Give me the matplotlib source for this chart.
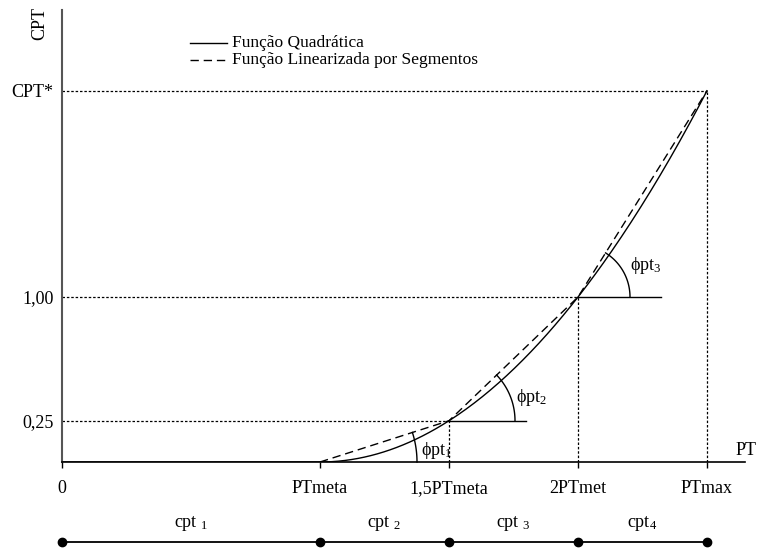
import numpy as np
import matplotlib
matplotlib.use("Agg")
import matplotlib.pyplot as plt

plt.rcParams['font.family'] = ['Liberation Serif', 'DejaVu Serif']
plt.rcParams['mathtext.fontset'] = 'custom'
plt.rcParams['mathtext.rm'] = 'Liberation Serif'
plt.rcParams['mathtext.it'] = 'Liberation Serif:italic'

# ---- data ----
x_ticks = [0, 1.0, 1.5, 2.0, 2.5]
x_labels = ['0', 'PTmeta', '1,5PTmeta', '2PTmet', 'PTmax']
y_ticks = [0.25, 1.00, 2.25]
y_labels = ['0,25', '1,00', 'CPT*']
seg_x = [1.0, 1.5, 2.0, 2.5]          # linearization breakpoints
seg_y = [0.0, 0.25, 1.00, 2.25]
seg_labels = ['cpt $_1$', 'cpt $_2$', 'cpt $_3$', 'cpt$_4$']
angle_labels = ['ϕpt$_1$', 'ϕpt$_2$', 'ϕpt$_3$']
pt_meta = 1.0
pt_max = 2.5

W, H = 760, 551
fig = plt.figure(figsize=(W / 100, H / 100), dpi=100)
ax = fig.add_axes([62 / W, 89 / H, 683 / W, 452 / H])
ax.set_xlim(0, 683 / 258)
ax.set_ylim(0, 452 / 165)

for s in ['top', 'right']:
    ax.spines[s].set_visible(False)
ax.spines['left'].set_color('#555555')
ax.spines['left'].set_linewidth(1.5)
ax.spines['bottom'].set_color('black')
ax.spines['bottom'].set_linewidth(1.2)

ax.set_xticks(x_ticks)
ax.set_xticklabels(x_labels, fontsize=13)
ax.tick_params(axis='x', direction='out', length=4, width=1, pad=9)
ax.set_yticks(y_ticks)
ax.set_yticklabels(y_labels, fontsize=13)
ax.tick_params(axis='y', length=0, pad=6)

# quadratic function
xq = np.linspace(0, pt_max, 400)
yq = np.where(xq < pt_meta, 0.0, ((xq - pt_meta) / pt_meta) ** 2)
ax.plot(xq, yq, color='black', lw=1.0)
# piecewise linear
ax.plot(seg_x, seg_y, color='black', lw=1.0, ls=(0, (6, 3.5)))

# dotted guide lines
for xv, yv in zip(seg_x[1:], seg_y[1:]):
    ax.plot([0, xv], [yv, yv], color='black', lw=0.9, ls=(0, (2, 1.5)))
    ax.plot([xv, xv], [0, yv], color='black', lw=0.9, ls=(0, (2, 1.5)))

# horizontal reference lines at breakpoints 2 and 3
h_ends = [1.80, 2.32]
for (xv, yv), xe in zip(zip(seg_x[1:3], seg_y[1:3]), h_ends):
    ax.plot([xv, xe], [yv, yv], color='black', lw=1.0)

# angle arcs (drawn as circles in display space)
radii = [97, 66, 52]
fig.canvas.draw()
tr = ax.transData
inv = tr.inverted()
for i, r in enumerate(radii):
    p0 = tr.transform((seg_x[i], seg_y[i]))
    p1 = tr.transform((seg_x[i + 1], seg_y[i + 1]))
    ang = np.arctan2(p1[1] - p0[1], p1[0] - p0[0])
    t = np.linspace(0, ang, 60)
    pts = np.column_stack([p0[0] + r * np.cos(t), p0[1] + r * np.sin(t)])
    d = inv.transform(pts)
    ax.plot(d[:, 0], d[:, 1], color='black', lw=1.0, clip_on=False)

lab_pos = [(1.39, 0.07), (1.76, 0.39), (2.20, 1.19)]
for (lx, ly), txt in zip(lab_pos, angle_labels):
    ax.text(lx, ly, txt, fontsize=13, ha='left', va='center')

# axis labels
ax.text(2.69, 0.07, 'PT', fontsize=13, ha='right', va='center', clip_on=False)
fig.text(40 / W, 1 - 24 / H, 'CPT', fontsize=13, rotation=90, ha='center', va='center')

# legend drawn manually
ax.plot([0.496, 0.639], [2.539, 2.539], color='black', lw=1.0)
ax.plot([0.496, 0.639], [2.436, 2.436], color='black', lw=1.0, ls=(0, (6, 3.5)))
ax.text(0.66, 2.539, 'Função Quadrática', fontsize=12.5, ha='left', va='center')
ax.text(0.66, 2.436, 'Função Linearizada por Segmentos', fontsize=12.5, ha='left', va='center')

# segment bar below the axis
bar_x = [0.0] + seg_x
bar_y = -0.485
ax.plot(bar_x, [bar_y] * len(bar_x), color='black', lw=1.3, marker='o', ms=6,
        clip_on=False)
for a, b, txt in zip(bar_x[:-1], bar_x[1:], seg_labels):
    ax.text((a + b) / 2, -0.37, txt, fontsize=13, ha='center', va='center')

fig.savefig('out.png', dpi=100)
